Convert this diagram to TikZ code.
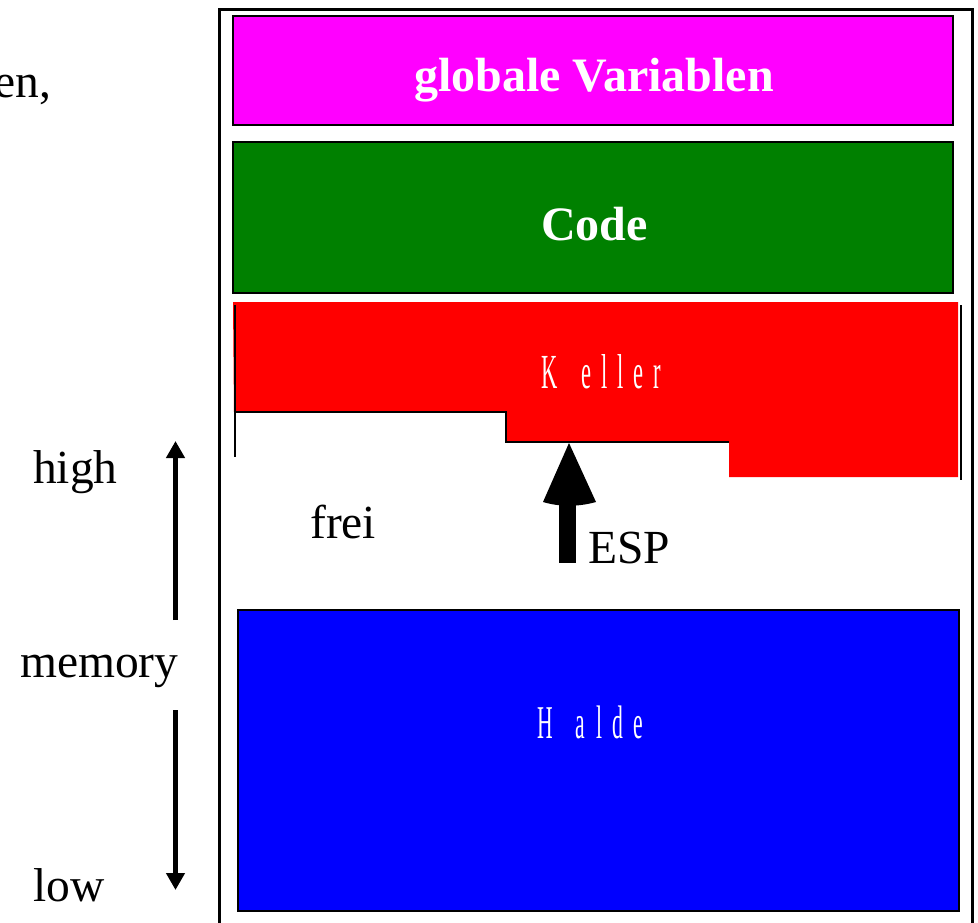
\documentclass[tikz,border=0pt]{standalone}
\usepackage{fontspec}
\setmainfont{Liberation Serif}
\newfontfamily\narrowserif[FakeStretch=0.46]{Liberation Serif}
\usetikzlibrary{arrows.meta}
\definecolor{globalsfill}{RGB}{255,0,255}
\definecolor{codefill}{RGB}{0,128,0}
\definecolor{stackfill}{RGB}{255,0,0}
\definecolor{heapfill}{RGB}{0,0,255}
\begin{document}
\begin{tikzpicture}[x=1pt,y=-1pt,
  segment/.style={draw=black, line width=2pt, inner sep=0pt, outer sep=0pt},
  caption/.style={font=\fontsize{47.5}{50}\selectfont, inner sep=0pt, anchor=base west},
  boldcaption/.style={text=white, font=\fontsize{48}{50}\selectfont\bfseries, inner sep=0pt, anchor=base},
  narrowcaption/.style={text=white, inner sep=0pt, anchor=base},
  memarrow/.style={line width=4.5pt, -{Triangle[width=18pt,length=17pt]}}]
\useasboundingbox (0,0) rectangle (978,922);
\clip (0,0) rectangle (978,922);

% outer memory frame, open at the bottom
\draw[line width=3pt] (219,930) -- (219,9) -- (972,9) -- (972,930);

% global variables
\node[segment, fill=globalsfill, minimum width=720pt, minimum height=109pt] (globals) at (593,70.5) {};
\node[boldcaption] (globalstext) at (594,91) {globale Variablen};

% code segment
\node[segment, fill=codefill, minimum width=720pt, minimum height=151pt] (code) at (593,217.5) {};
\node[boldcaption] (codetext) at (594.5,240) {Code};

% stack (Keller) with its stepped lower edge
\fill[stackfill] (233,302) -- (958,302) -- (958,477) -- (729,477) -- (729,442)
  -- (506,442) -- (506,412) -- (234,412) -- cycle;
\draw[line width=2pt] (234.5,305) -- (234.5,457);
\draw[line width=2pt] (234.5,412) -- (506,412) -- (506,442) -- (729,442);
\draw[line width=1.5pt] (961,305) -- (961,480);
\node[narrowcaption, font=\fontsize{49}{50}\selectfont\narrowserif] (stacktext) at (601.5,388)
  {K\kern23pt e\kern10pt l\kern10pt l\kern10pt e\kern10pt r};

% heap (Halde)
\node[segment, fill=heapfill, minimum width=721pt, minimum height=301pt] (heap) at (598.5,760.5) {};
\node[narrowcaption, font=\fontsize{47}{50}\selectfont\narrowserif] (heaptext) at (590,738)
  {H\kern23pt a\kern11pt l\kern10pt d\kern10pt e};

% free area and stack pointer
\node[caption] (free) at (310,538) {frei};
\coordinate (esptip) at (569,443);
\fill (esptip) -- (543,502) .. controls (560,507) and (578,507) .. (596,502) -- cycle;
\fill (559,500) rectangle (576,563);
\node[caption] (esp) at (588,563) {ESP};

% address direction on the left
\node[caption] (cut) at (-6,97) {en,};
\node[caption] (high) at (33,483) {high};
\node[caption] (memory) at (20,677) {memory};
\node[caption] (low) at (33,901) {low};
\coordinate (upstart) at (175.5,620);
\coordinate (uptip) at (175.5,441);
\coordinate (downstart) at (175.5,710);
\coordinate (downtip) at (175.5,890);
\draw[memarrow] (upstart) -- (uptip);
\draw[memarrow] (downstart) -- (downtip);
\end{tikzpicture}
\end{document}
